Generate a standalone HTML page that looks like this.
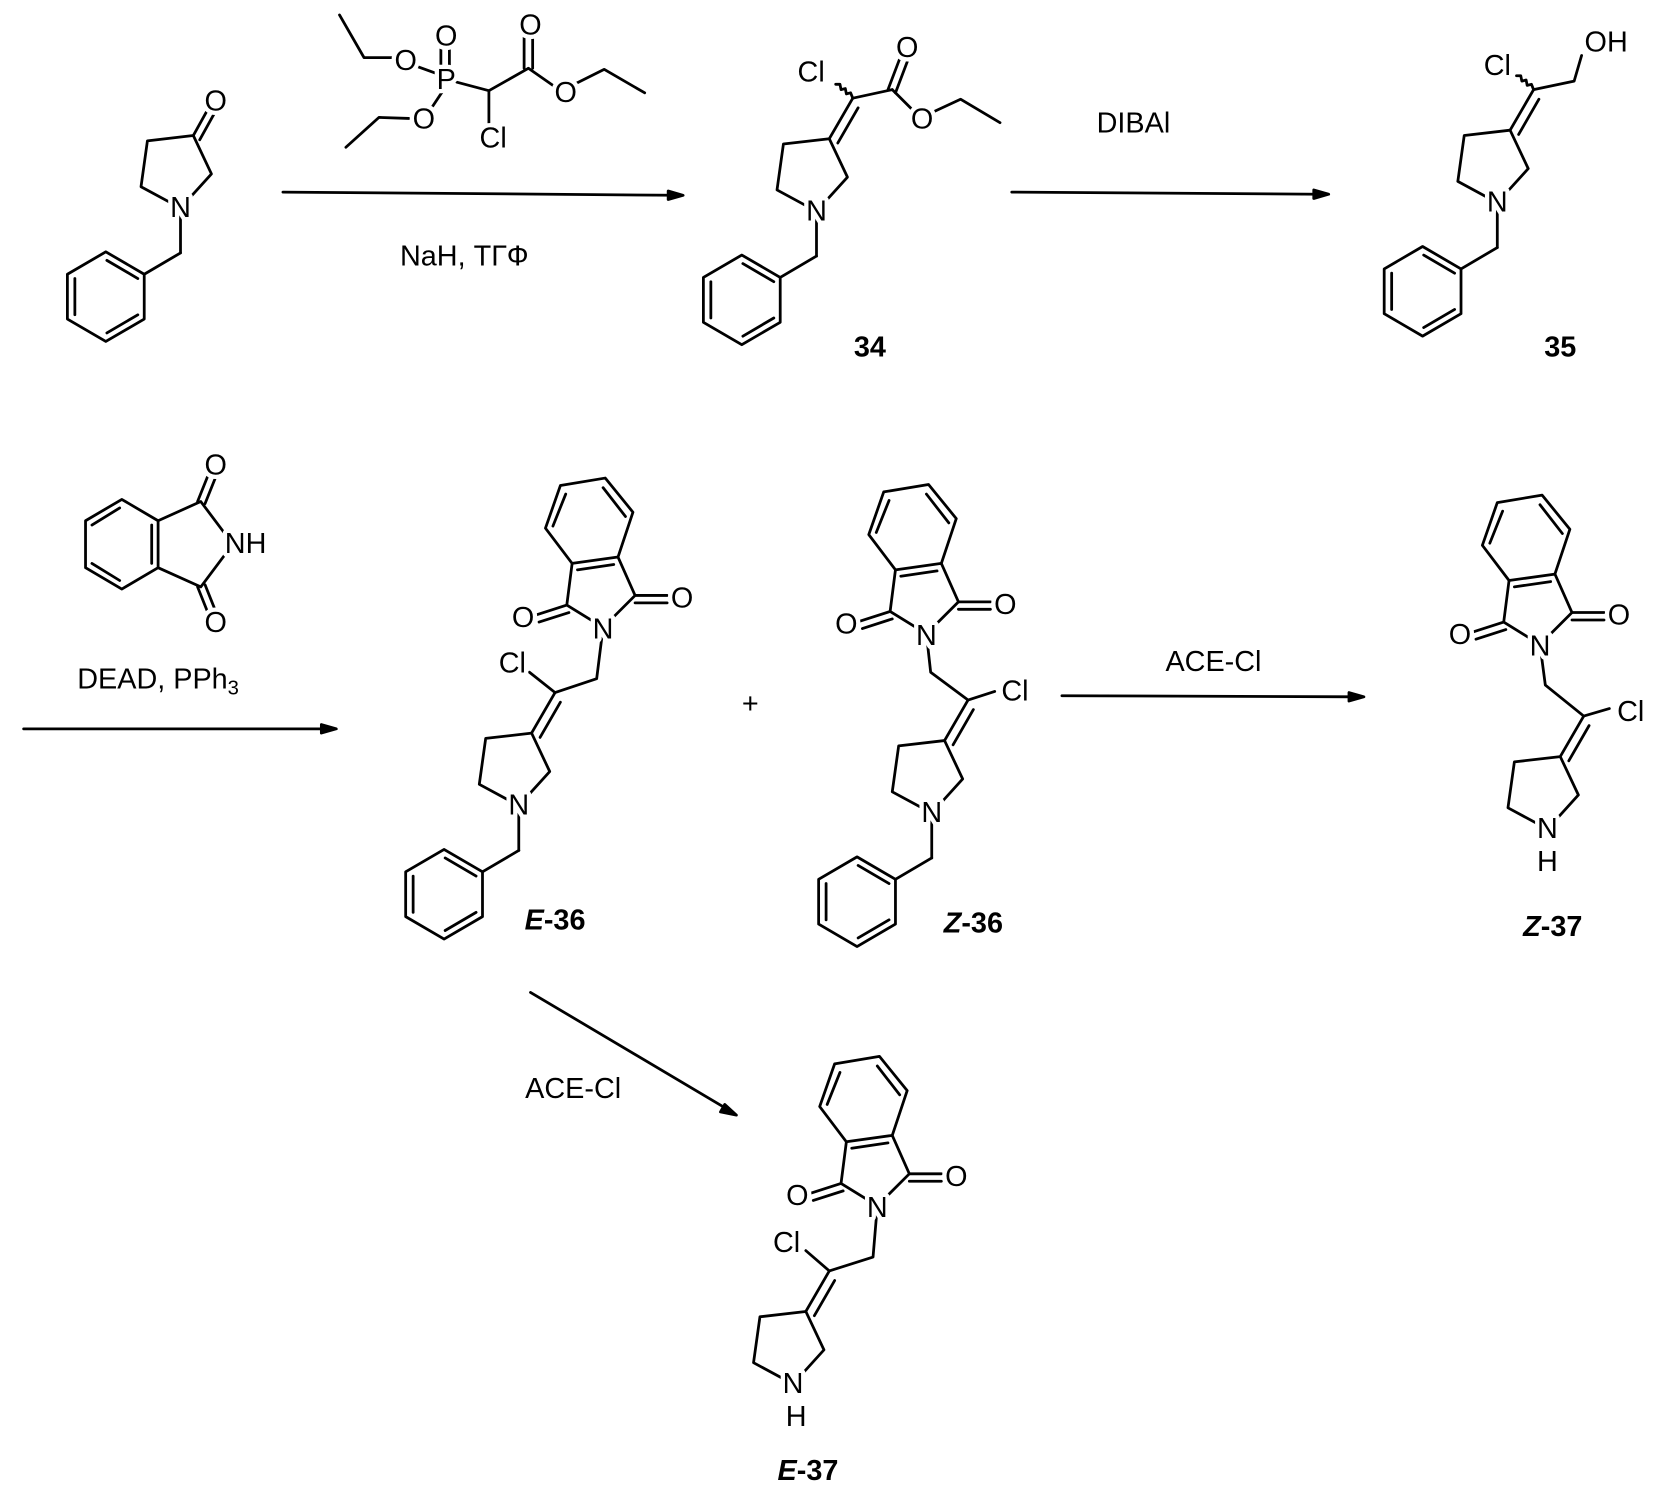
<!DOCTYPE html>
<html><head><meta charset="utf-8"><style>
html,body{margin:0;padding:0;background:#fff}
svg{display:block}
text{font-family:"Liberation Sans",sans-serif;font-size:27px;fill:#000}
.a{paint-order:stroke;stroke:#fff;stroke-width:8px;stroke-linejoin:round;text-anchor:middle;dominant-baseline:central}
.lb{font-weight:bold;font-size:27px;text-anchor:middle}
line,polyline,polygon,path{stroke:#000;stroke-width:2.6;fill:none;stroke-linecap:round;stroke-linejoin:round}
</style></head><body>
<svg width="1665" height="1495" viewBox="0 0 1560 1401" xmlns="http://www.w3.org/2000/svg">
<defs>
<g id="pyr">
<polyline points="0,0 29,-32 12,-68 -31,-63 -37,-20 0,0"/>
</g>
<g id="bn">
<line x1="0" y1="0" x2="0" y2="42"/>
<line x1="0" y1="42" x2="-34" y2="62"/>
<polygon points="-34,62 -34,104 -70,125 -106,104 -106,62 -70,41"/>
<line x1="-40" y1="66" x2="-69" y2="49"/>
<line x1="-99" y1="66" x2="-99" y2="100"/>
<line x1="-40" y1="100" x2="-69" y2="117"/>
</g>
<g id="phth">
<polyline points="0,0 -34,-21 -29,-60 14,-66 30,-30 0,0"/>
<polyline points="14,-66 28,-108 2,-140 -40,-133 -54,-93 -29,-60"/>
<line x1="-24" y1="-54" x2="10" y2="-59"/>
<line x1="21" y1="-104" x2="0" y2="-131"/>
<line x1="-35" y1="-125" x2="-47" y2="-95"/>
<line x1="-34" y1="-21" x2="-62" y2="-12"/>
<line x1="-32" y1="-14" x2="-60" y2="-5"/>
<line x1="30" y1="-30" x2="60" y2="-30"/>
<line x1="30" y1="-23" x2="60" y2="-23"/>
<text class="a" x="0" y="2">N</text>
<text class="a" x="-75" y="-9">O</text>
<text class="a" x="74" y="-27">O</text>
</g>
</defs>

<!-- starting material -->
<use href="#pyr" x="169" y="195"/>
<use href="#bn" x="169" y="195"/>
<line x1="181" y1="127" x2="196" y2="100"/>
<line x1="187" y1="131" x2="202" y2="104"/>
<text class="a" x="169" y="195">N</text>
<text class="a" x="202" y="95">O</text>

<!-- phosphonate reagent -->
<polyline points="318,14 341,54 368,54"/>
<line x1="390" y1="62" x2="412" y2="70"/>
<line x1="413" y1="45" x2="413" y2="65"/>
<line x1="421" y1="45" x2="421" y2="65"/>
<line x1="415" y1="85" x2="405" y2="100"/>
<polyline points="383,111 355,110 324,138"/>
<line x1="428" y1="77" x2="458" y2="85"/>
<line x1="458" y1="85" x2="458" y2="115"/>
<line x1="458" y1="85" x2="495" y2="64"/>
<line x1="491" y1="64" x2="491" y2="35"/>
<line x1="499" y1="64" x2="499" y2="35"/>
<line x1="495" y1="64" x2="518" y2="80"/>
<polyline points="540,78 566,65 604,87"/>
<text class="a" x="380" y="57">O</text>
<text class="a" x="418" y="75">P</text>
<text class="a" x="418" y="34">O</text>
<text class="a" x="397" y="112">O</text>
<text class="a" x="462" y="130">Cl</text>
<text class="a" x="497" y="24">O</text>
<text class="a" x="530" y="87">O</text>

<!-- arrow 1 -->
<line x1="265" y1="180" x2="632" y2="183"/>
<polygon points="640,183 626,179 626,187" style="fill:#000"/>
<text x="435" y="249" style="text-anchor:middle">NaH, ТГФ</text>

<!-- 34 -->
<use href="#pyr" x="765" y="198"/>
<use href="#bn" x="765" y="198"/>
<line x1="777" y1="130" x2="799" y2="92"/>
<line x1="785" y1="134" x2="804" y2="101"/>
<path d="M799,92 l-2,-5 l-4,1 l-1,-5 l-4,1 l-1,-5 l-4,0"/>
<line x1="799" y1="92" x2="836" y2="84"/>
<line x1="832" y1="84" x2="843" y2="55"/>
<line x1="839" y1="87" x2="850" y2="58"/>
<line x1="836" y1="84" x2="855" y2="103"/>
<polyline points="872,106 900,93 937,115"/>
<text class="a" x="765" y="198">N</text>
<text class="a" x="760" y="68">Cl</text>
<text class="a" x="850" y="45">O</text>
<text class="a" x="864" y="112">O</text>
<text class="lb" x="815" y="334">34</text>

<!-- arrow 2 -->
<line x1="948" y1="180" x2="1237" y2="182"/>
<polygon points="1245,182 1231,178 1231,186" style="fill:#000"/>
<text x="1062" y="124" style="text-anchor:middle">DIBAl</text>

<!-- 35 -->
<use href="#pyr" x="1403" y="190"/>
<use href="#bn" x="1403" y="190"/>
<line x1="1415" y1="122" x2="1437" y2="84"/>
<line x1="1423" y1="126" x2="1442" y2="93"/>
<path d="M1437,84 l-2,-5 l-4,1 l-1,-5 l-4,1 l-1,-5 l-4,0"/>
<polyline points="1437,84 1475,76 1482,52"/>
<text class="a" x="1403" y="190">N</text>
<text class="a" x="1403" y="62">Cl</text>
<text class="a" x="1505" y="40">OH</text>
<text class="lb" x="1462" y="334">35</text>

<!-- phthalimide reagent -->
<polygon points="148,488 148,532 114,552 80,532 80,488 114,468"/>
<line x1="142" y1="492" x2="142" y2="528"/>
<line x1="86" y1="492" x2="112" y2="476"/>
<line x1="86" y1="528" x2="112" y2="544"/>
<polyline points="148,488 188,470 218,510 188,550 148,532"/>
<line x1="185" y1="470" x2="195" y2="445"/>
<line x1="192" y1="472" x2="202" y2="447"/>
<line x1="185" y1="550" x2="195" y2="575"/>
<line x1="192" y1="548" x2="202" y2="573"/>
<text class="a" x="230" y="510">NH</text>
<text class="a" x="202" y="436">O</text>
<text class="a" x="202" y="584">O</text>
<text x="148" y="645" style="text-anchor:middle">DEAD, PPh<tspan font-size="19" dy="6">3</tspan></text>

<!-- arrow 3 -->
<line x1="22" y1="683" x2="307" y2="683"/>
<polygon points="315,683 301,679 301,687" style="fill:#000"/>

<!-- E-36 -->
<use href="#pyr" x="486" y="755"/>
<use href="#bn" x="486" y="755"/>
<line x1="498" y1="687" x2="520" y2="649"/>
<line x1="506" y1="691" x2="525" y2="658"/>
<polyline points="520,649 559,636 565,588"/>
<line x1="520" y1="649" x2="496" y2="630"/>
<use href="#phth" x="565" y="588"/>
<text class="a" x="486" y="755">N</text>
<text class="a" x="480" y="622">Cl</text>
<text class="lb" x="520" y="871"><tspan font-style="italic">E</tspan>-36</text>

<text x="703" y="668" style="text-anchor:middle">+</text>

<!-- Z-36 -->
<use href="#pyr" x="873" y="762"/>
<use href="#bn" x="873" y="762"/>
<line x1="885" y1="694" x2="907" y2="656"/>
<line x1="893" y1="698" x2="912" y2="665"/>
<polyline points="907,656 872,630 868,594"/>
<line x1="907" y1="656" x2="932" y2="648"/>
<use href="#phth" x="868" y="594"/>
<text class="a" x="873" y="762">N</text>
<text class="a" x="951" y="648">Cl</text>
<text class="lb" x="912" y="874"><tspan font-style="italic">Z</tspan>-36</text>

<!-- arrow 4 -->
<line x1="995" y1="652" x2="1270" y2="653"/>
<polygon points="1278,653 1264,649 1264,657" style="fill:#000"/>
<text x="1137" y="629" style="text-anchor:middle">ACE-Cl</text>

<!-- Z-37 -->
<use href="#pyr" x="1450" y="777"/>
<line x1="1462" y1="709" x2="1484" y2="671"/>
<line x1="1470" y1="713" x2="1489" y2="680"/>
<polyline points="1484,671 1448,642 1443,604"/>
<line x1="1484" y1="671" x2="1508" y2="664"/>
<use href="#phth" x="1443" y="604"/>
<text class="a" x="1450" y="777">N</text>
<text class="a" x="1450" y="808">H</text>
<text class="a" x="1528" y="667">Cl</text>
<text class="lb" x="1455" y="877"><tspan font-style="italic">Z</tspan>-37</text>

<!-- arrow 5 -->
<line x1="497" y1="930" x2="684" y2="1041"/>
<polygon points="690,1045 679,1035 675,1042" style="fill:#000"/>
<text x="537" y="1029" style="text-anchor:middle">ACE-Cl</text>

<!-- E-37 -->
<use href="#pyr" x="743" y="1297"/>
<line x1="755" y1="1229" x2="777" y2="1191"/>
<line x1="763" y1="1233" x2="782" y2="1200"/>
<polyline points="777,1191 818,1178 822,1130"/>
<line x1="777" y1="1191" x2="755" y2="1172"/>
<use href="#phth" x="822" y="1130"/>
<text class="a" x="743" y="1297">N</text>
<text class="a" x="746" y="1328">H</text>
<text class="a" x="737" y="1165">Cl</text>
<text class="lb" x="757" y="1387"><tspan font-style="italic">E</tspan>-37</text>
</svg>
</body></html>
